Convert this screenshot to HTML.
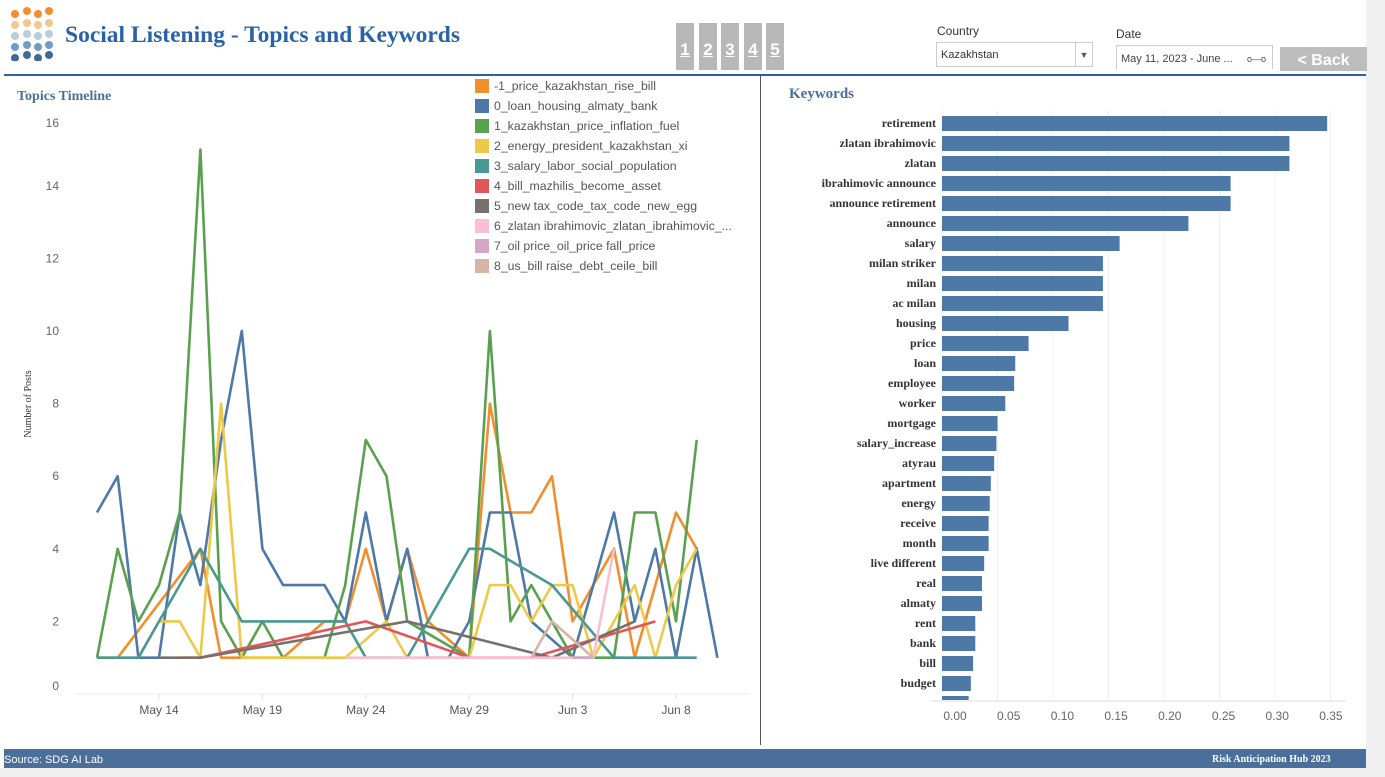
<!DOCTYPE html>
<html><head><meta charset="utf-8">
<style>
body{margin:0;width:1385px;height:777px;background:#fff;position:relative;overflow:hidden;font-family:"Liberation Sans",sans-serif}
.abs{position:absolute}
.num{position:absolute;top:23px;width:18px;height:47px;background:#b8b8b8;color:#fff;font-weight:bold;font-size:17px;text-align:center;line-height:54px;text-decoration:underline}
</style></head><body>
<div class="abs" style="left:1366px;top:0;width:19px;height:777px;background:#f0f0f0"></div>
<svg class="abs" style="left:10px;top:5px" width="50" height="56">
<g fill="#f28e2b"><circle cx="5" cy="9" r="4"/><circle cx="17" cy="6" r="4"/><circle cx="28" cy="9" r="4"/><circle cx="39" cy="6" r="4"/></g>
<g fill="#f6c68f"><circle cx="5" cy="20" r="4"/><circle cx="17" cy="18" r="4"/><circle cx="28" cy="20" r="4"/><circle cx="39" cy="18" r="4"/></g>
<g fill="#b5cfdd"><circle cx="5" cy="31" r="4"/><circle cx="17" cy="29" r="4"/><circle cx="28" cy="31" r="4"/><circle cx="39" cy="29" r="4"/></g>
<g fill="#6f9cc4"><circle cx="5" cy="42" r="4"/><circle cx="17" cy="40" r="4"/><circle cx="28" cy="42" r="4"/><circle cx="39" cy="40" r="4"/></g>
<g fill="#3e6a9a"><circle cx="5" cy="53" r="4"/><circle cx="17" cy="50" r="4"/><circle cx="28" cy="53" r="4"/><circle cx="39" cy="50" r="4"/></g>
</svg>
<div class="abs" style="left:65px;top:22px;font-family:'Liberation Serif',serif;font-weight:bold;font-size:23.5px;color:#2a62a8">Social Listening - Topics and Keywords</div>
<div class="num" style="left:676px">1</div>
<div class="num" style="left:699px">2</div>
<div class="num" style="left:721px">3</div>
<div class="num" style="left:744px">4</div>
<div class="num" style="left:766px">5</div>
<div class="abs" style="left:937px;top:24px;font-size:12px;color:#333">Country</div>
<div class="abs" style="left:936px;top:42px;width:157px;height:25px;border:1px solid #ccc;font-size:11px;color:#333;line-height:25px;box-sizing:border-box;padding-left:4px">Kazakhstan<span style="position:absolute;right:0;top:0;width:16px;height:23px;border-left:1px solid #ccc;text-align:center;font-size:9px;color:#555">▼</span></div>
<div class="abs" style="left:1116px;top:27px;font-size:12px;color:#333">Date</div>
<div class="abs" style="left:1116px;top:45px;width:157px;height:24px;border:1px solid #ccc;border-bottom:none;font-size:11px;color:#444;line-height:26px;box-sizing:border-box;padding-left:4px">May 11, 2023 - June ... <span style="position:absolute;right:6px;font-size:9px">o—o</span></div>
<div class="abs" style="left:1280px;top:47px;width:87px;height:24px;background:#bdbdbd;color:#fff;font-weight:bold;font-size:16px;text-align:center;line-height:27px">&lt; Back</div>
<div class="abs" style="left:4px;top:74px;width:1362px;height:2px;background:#2a62a8"></div>
<div class="abs" style="left:760px;top:76px;width:1px;height:669px;background:#555"></div>
<div class="abs" style="left:17px;top:89px;font-family:'Liberation Serif',serif;font-weight:bold;font-size:14px;color:#4a6f9a">Topics Timeline</div>
<div class="abs" style="left:789px;top:86px;font-family:'Liberation Serif',serif;font-weight:bold;font-size:15px;color:#4a6f9a">Keywords</div>
<div class="abs" style="left:4px;top:749px;width:1362px;height:19px;background:#4a6f9a"></div>
<div class="abs" style="left:4px;top:754px;font-size:11px;color:#fff">Source: SDG AI Lab</div>
<div class="abs" style="left:1212px;top:754px;font-family:'Liberation Serif',serif;font-weight:bold;font-size:10px;color:#fff">Risk Anticipation Hub 2023</div>
<div class="abs" style="left:0;top:768px;width:1385px;height:9px;background:#f0f0f0"></div>
<svg id="line" class="abs" style="left:0;top:0" width="760" height="745"></svg>
<svg id="bar" class="abs" style="left:761px;top:0" width="605" height="745"></svg>
<script>
const N=null;
const seriesNames=["-1_price_kazakhstan_rise_bill","0_loan_housing_almaty_bank","1_kazakhstan_price_inflation_fuel","2_energy_president_kazakhstan_xi","3_salary_labor_social_population","4_bill_mazhilis_become_asset","5_new tax_code_tax_code_new_egg","6_zlatan ibrahimovic_zlatan_ibrahimovic_...","7_oil price_oil_price fall_price","8_us_bill raise_debt_ceile_bill"];
const seriesColors=["#f28e2b","#4e79a7","#59a14f","#edc948","#499894","#e15759","#79706e","#fabfd2","#d4a6c8","#d7b5a6"];
const sPrice=[1,1,N,N,N,4,1,1,N,1,N,2,2,4,2,4,2,N,1,8,5,5,6,2,N,4,1,N,5,4,N];
const sLoan=[5,6,1,1,5,3,7,10,4,3,3,3,2,5,2,4,1,1,2,5,5,2,N,1,N,5,2,4,1,4,1];
const sKaz=[1,4,2,3,5,15,2,1,2,1,1,1,3,7,6,2,N,N,1,10,2,3,N,1,1,1,5,5,2,7,N];
const sEnergy=[N,N,1,2,2,1,8,1,1,1,1,1,1,N,2,1,1,N,1,3,3,2,3,3,1,N,3,1,3,4,N];
const sSalary=[1,1,1,2,3,4,N,2,2,2,2,2,2,1,1,1,N,N,4,4,N,N,3,N,N,1,1,1,1,1,N];
const sBill=[N,N,N,N,1,1,N,N,N,N,N,N,N,2,N,N,N,N,1,N,1,1,N,N,N,N,N,2,N,N,N];
const sTax=[N,N,N,1,N,1,N,N,N,N,N,N,N,N,N,2,N,N,N,N,N,N,1,N,N,N,2,N,N,N,N];
const sZlatan=[N,N,N,N,N,N,N,N,N,N,N,N,1,1,N,N,N,N,1,1,1,1,1,1,1,4,N,N,N,N,N];
const sOil=[N,N,N,N,N,N,N,N,N,N,N,N,N,N,N,N,N,N,N,N,N,N,N,1,1,N,N,N,N,N,N];
const sUs=[N,N,N,N,N,N,N,N,N,N,N,N,N,N,N,N,N,N,N,N,N,1,2,N,1,N,N,N,N,N,N];
const allSeries=[sPrice,sLoan,sKaz,sEnergy,sSalary,sBill,sTax,sZlatan,sOil,sUs];
const yTicks=[0,2,4,6,8,10,12,14,16];
const xTickDays=[3,8,13,18,23,28];
const xTickLabels=["May 14","May 19","May 24","May 29","Jun 3","Jun 8"];
const keywords=["retirement","zlatan ibrahimovic","zlatan","ibrahimovic announce","announce retirement","announce","salary","milan striker","milan","ac milan","housing","price","loan","employee","worker","mortgage","salary_increase","atyrau","apartment","energy","receive","month","live different","real","almaty","rent","bank","bill","budget","one"];
const kwValues=[0.347,0.313,0.313,0.260,0.260,0.222,0.160,0.145,0.145,0.145,0.114,0.078,0.066,0.065,0.057,0.050,0.049,0.047,0.044,0.043,0.042,0.042,0.038,0.036,0.036,0.030,0.030,0.028,0.026,0.024];
const barTicks=[0,0.05,0.10,0.15,0.20,0.25,0.30,0.35];

const NS="http://www.w3.org/2000/svg";
function mk(p,t,a){const e=document.createElementNS(NS,t);for(const k in a)e.setAttribute(k,a[k]);p.appendChild(e);return e;}
const L=document.getElementById('line');
const xS=d=>97+20.68*d, yS=v=>694-36.3*v;
const ax=mk(L,'line',{x1:75,x2:750,y1:694,y2:694,stroke:'#eee'});


yTicks.forEach(v=>{const t=mk(L,'text',{x:59,y:Math.min(690,Math.max(127,yS(v)+4)),'text-anchor':'end','font-size':12,fill:'#666','font-family':'Liberation Sans'});t.textContent=v;

});
xTickDays.forEach((d,i)=>{const t=mk(L,'text',{x:xS(d),y:714,'text-anchor':'middle','font-size':12,fill:'#555','font-family':'Liberation Sans'});t.textContent=xTickLabels[i];


const g=mk(L,'line',{x1:xS(d),x2:xS(d),y1:694,y2:699,stroke:'#ddd'});

});
const yt=mk(L,'text',{x:0,y:0,transform:'translate(31,404) rotate(-90)','text-anchor':'middle','font-size':10,fill:'#333','font-family':'Liberation Serif'});yt.textContent='Number of Posts';


allSeries.forEach((s,i)=>{const pts=[];s.forEach((v,d)=>{if(v!==null)pts.push(xS(d).toFixed(1)+','+yS(v).toFixed(1));});
const p=mk(L,'polyline',{points:pts.join(' '),fill:'none',stroke:seriesColors[i],'stroke-width':2.6,'stroke-linejoin':'round'});

});
seriesNames.forEach((n,i)=>{const y=79+20*i;
const r=mk(L,'rect',{x:475,y:y,width:14,height:14,fill:seriesColors[i]});


const t=mk(L,'text',{x:494,y:y+11,'font-size':12.3,fill:'#555','font-family':'Liberation Sans'});t.textContent=n;

});
const B=document.getElementById('bar');
const bx=v=>181+1110*v, by=i=>116+20*i;
barTicks.forEach(v=>{const g=mk(B,'line',{x1:bx(v),x2:bx(v),y1:110,y2:700,stroke:'#f0f0f0'});


const t=mk(B,'text',{x:194+1074*v,y:720,'text-anchor':'middle','font-size':12,fill:'#666','font-family':'Liberation Sans'});t.textContent=v.toFixed(2);

});
const bl=mk(B,'line',{x1:170,x2:585,y1:701,y2:701,stroke:'#ddd'});


keywords.forEach((k,i)=>{const y=by(i);if(y>700)return;
const h=Math.min(15,700-y);
const r=mk(B,'rect',{x:bx(0),y:y,width:bx(kwValues[i])-bx(0),height:h,fill:'#4e79a7'});


if(y+11<700){const t=mk(B,'text',{x:175,y:y+11,'text-anchor':'end','font-size':12,'font-weight':'bold',fill:'#333','font-family':'Liberation Serif'});t.textContent=k;

}});
</script>
</body></html>
